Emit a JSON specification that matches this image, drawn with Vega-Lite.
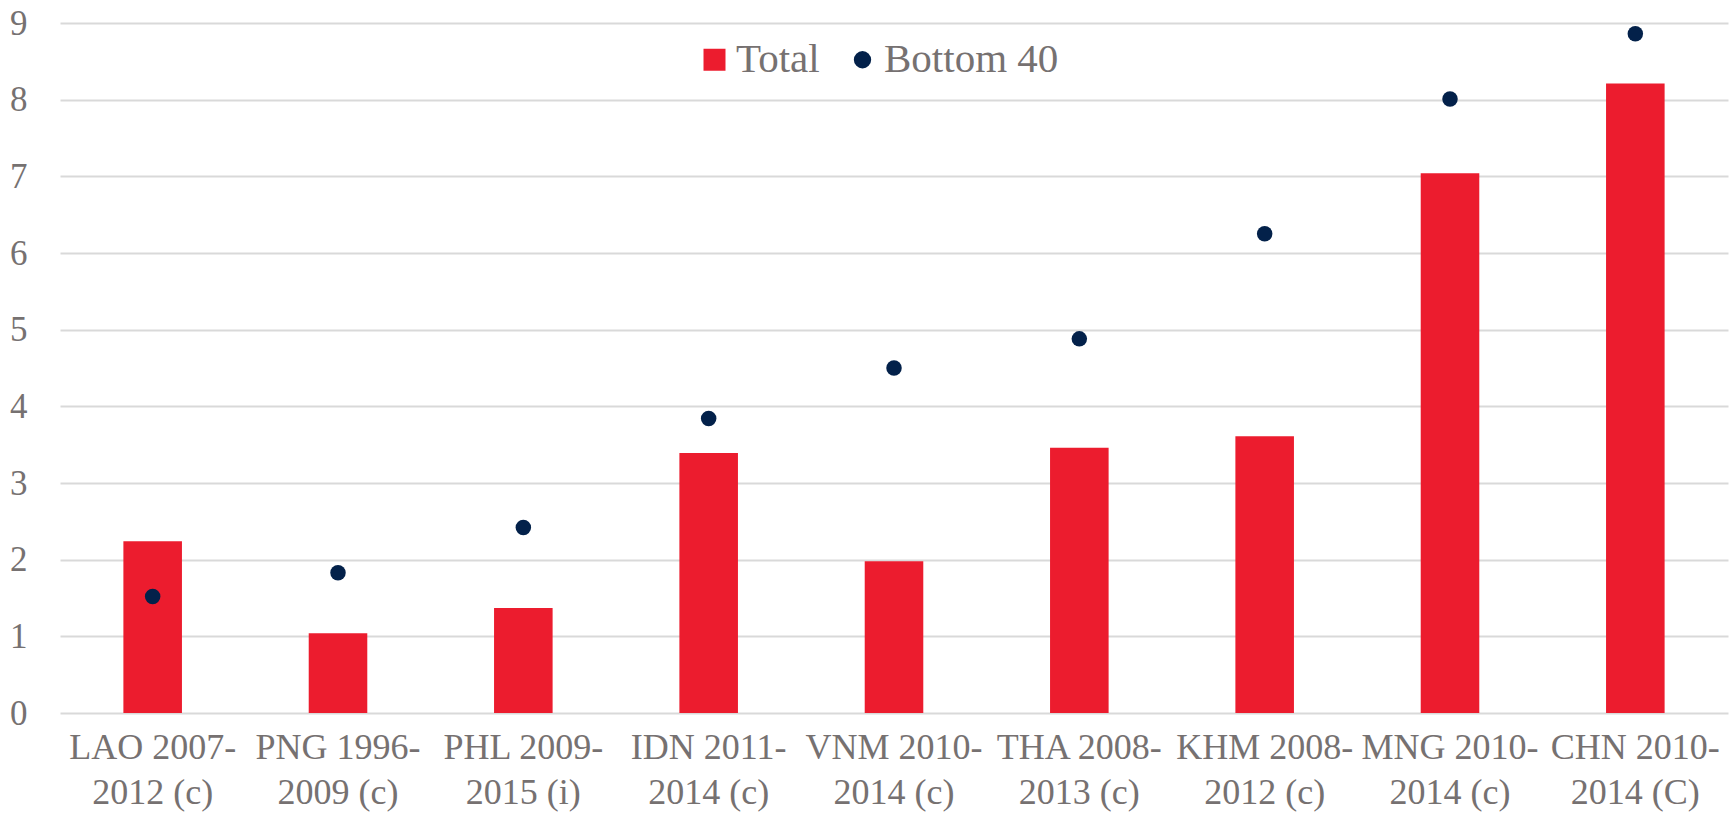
{
  "$schema": "https://vega.github.io/schema/vega-lite/v6.json",
  "width": 1668,
  "height": 690,
  "autosize": "none",
  "padding": {"left": 60, "top": 23, "right": 6, "bottom": 105},
  "background": "white",
  "data": {
    "values": [
      {"country": "LAO 2007-2012 (c)", "series": "Total", "value": 2.24},
      {"country": "LAO 2007-2012 (c)", "series": "Bottom 40", "value": 1.52},
      {"country": "PNG 1996-2009 (c)", "series": "Total", "value": 1.04},
      {"country": "PNG 1996-2009 (c)", "series": "Bottom 40", "value": 1.83},
      {"country": "PHL 2009-2015 (i)", "series": "Total", "value": 1.37},
      {"country": "PHL 2009-2015 (i)", "series": "Bottom 40", "value": 2.42},
      {"country": "IDN 2011-2014 (c)", "series": "Total", "value": 3.39},
      {"country": "IDN 2011-2014 (c)", "series": "Bottom 40", "value": 3.84},
      {"country": "VNM 2010-2014 (c)", "series": "Total", "value": 1.98},
      {"country": "VNM 2010-2014 (c)", "series": "Bottom 40", "value": 4.50},
      {"country": "THA 2008-2013 (c)", "series": "Total", "value": 3.46},
      {"country": "THA 2008-2013 (c)", "series": "Bottom 40", "value": 4.88},
      {"country": "KHM 2008-2012 (c)", "series": "Total", "value": 3.61},
      {"country": "KHM 2008-2012 (c)", "series": "Bottom 40", "value": 6.25},
      {"country": "MNG 2010-2014 (c)", "series": "Total", "value": 7.04},
      {"country": "MNG 2010-2014 (c)", "series": "Bottom 40", "value": 8.01},
      {"country": "CHN 2010-2014 (C)", "series": "Total", "value": 8.21},
      {"country": "CHN 2010-2014 (C)", "series": "Bottom 40", "value": 8.86}
    ]
  },
  "config": {
    "view": {"stroke": null},
    "font": "Liberation Serif",
    "legend": {
      "orient": "none",
      "legendX": 634,
      "legendY": 16,
      "direction": "horizontal",
      "labelFontSize": 41,
      "labelColor": "#767171",
      "labelFont": "Liberation Serif",
      "labelLimit": 500,
      "symbolSize": 484,
      "symbolStrokeWidth": 0,
      "labelOffset": 1,
      "columnPadding": 22,
      "padding": 0
    }
  },
  "encoding": {
    "x": {
      "field": "country",
      "type": "nominal",
      "sort": null,
      "scale": {"paddingInner": 0.684, "paddingOuter": 0.342},
      "axis": {
        "title": null,
        "labelAngle": 0,
        "labelExpr": "[substring(datum.label, 0, 9), substring(datum.label, 9)]",
        "labelFontSize": 36,
        "labelColor": "#767171",
        "labelPadding": 17,
        "labelLineHeight": 45,
        "labelOverlap": false,
        "labelLimit": 400,
        "ticks": false,
        "domain": false
      }
    },
    "y": {
      "field": "value",
      "type": "quantitative",
      "scale": {"domain": [0, 9], "nice": false},
      "axis": {
        "title": null,
        "values": [0, 1, 2, 3, 4, 5, 6, 7, 8, 9],
        "grid": true,
        "gridColor": "#d9d9d9",
        "gridWidth": 2,
        "domain": false,
        "ticks": false,
        "labelFontSize": 35,
        "labelColor": "#767171",
        "labelPadding": 33
      }
    }
  },
  "layer": [
    {
      "transform": [{"filter": "datum.series === 'Total'"}],
      "mark": {"type": "bar"},
      "encoding": {
        "color": {
          "field": "series",
          "type": "nominal",
          "title": null,
          "scale": {"domain": ["Total", "Bottom 40"], "range": ["#ec1c2e", "#03214a"]},
          "legend": {
            "title": null,
            "encode": {"symbols": {"update": {"size": {"signal": "datum.value === 'Total' ? 484 : 300"}}}}
          }
        }
      }
    },
    {
      "transform": [{"filter": "datum.series === 'Bottom 40'"}],
      "mark": {"type": "point", "filled": true, "opacity": 1, "size": 240},
      "encoding": {
        "color": {
          "field": "series",
          "type": "nominal",
          "title": null,
          "scale": {"domain": ["Total", "Bottom 40"], "range": ["#ec1c2e", "#03214a"]}
        },
        "shape": {
          "field": "series",
          "type": "nominal",
          "title": null,
          "scale": {"domain": ["Total", "Bottom 40"], "range": ["square", "circle"]}
        }
      }
    }
  ]
}
